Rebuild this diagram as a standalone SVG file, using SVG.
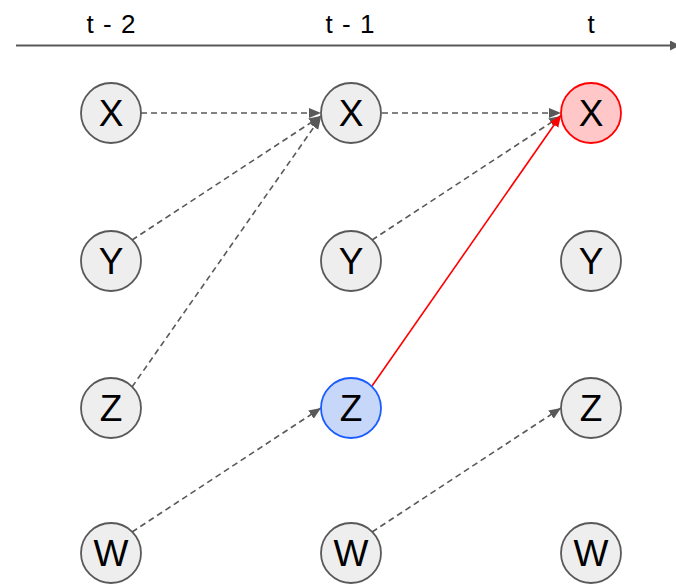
<svg xmlns="http://www.w3.org/2000/svg" width="676" height="584" viewBox="0 0 676 584">
<style>
.node circle{fill:#eeeeee;stroke:#595959;stroke-width:1.8}
.lbl{font-family:"Liberation Sans",Arial,sans-serif;font-size:37px;fill:#000;text-anchor:middle}
.tl{font-family:"Liberation Sans",Arial,sans-serif;font-size:26px;fill:#000;text-anchor:middle;word-spacing:2px}
.dash{stroke:#595959;stroke-width:1.6;stroke-dasharray:6 4;fill:none;marker-end:url(#ag)}
.red{stroke:#ff0000;stroke-width:1.6;fill:none;marker-end:url(#ar)}
</style>
<defs>
<marker id="ag" markerUnits="userSpaceOnUse" markerWidth="14" markerHeight="12" refX="12" refY="5" orient="auto"><path d="M0,0 L12,5 L0,10 z" fill="#595959"/></marker>
<marker id="ar" markerUnits="userSpaceOnUse" markerWidth="14" markerHeight="12" refX="12" refY="5" orient="auto"><path d="M0,0 L12,5 L0,10 z" fill="#ff0000"/></marker>
<marker id="aa" markerUnits="userSpaceOnUse" markerWidth="12" markerHeight="12" refX="8" refY="5" orient="auto"><path d="M0,0 L10,5 L0,10 z" fill="#595959"/></marker>
</defs>
<g id="axis">
<line x1="16" y1="45.5" x2="678" y2="45.5" stroke="#595959" stroke-width="2" marker-end="url(#aa)"/>
<text class="tl" x="111" y="33">t - 2</text>
<text class="tl" x="350" y="33">t - 1</text>
<text class="tl" x="591" y="33">t</text>
</g>
<g id="connectors">
<line class="dash" x1="141" y1="113" x2="321" y2="113"/>
<line class="dash" x1="132" y1="240" x2="321" y2="116"/>
<line class="dash" x1="132" y1="387" x2="321" y2="117"/>
<line class="dash" x1="382" y1="113" x2="561" y2="113"/>
<line class="dash" x1="372" y1="240" x2="561" y2="116"/>
<line class="red" x1="372" y1="386" x2="561" y2="115"/>
<line class="dash" x1="132" y1="532" x2="321" y2="408"/>
<line class="dash" x1="372" y1="532" x2="561" y2="408"/>
</g>
<g id="x2" class="node"><circle cx="111" cy="113" r="30"/><text class="lbl" x="111" y="126">X</text></g>
<g id="y2" class="node"><circle cx="111" cy="261" r="30"/><text class="lbl" x="111" y="274">Y</text></g>
<g id="z2" class="node"><circle cx="111" cy="408" r="30"/><text class="lbl" x="111" y="421">Z</text></g>
<g id="w2" class="node"><circle cx="111" cy="553" r="30"/><text class="lbl" x="111" y="566">W</text></g>
<g id="x1" class="node"><circle cx="351" cy="113" r="30"/><text class="lbl" x="351" y="126">X</text></g>
<g id="y1" class="node"><circle cx="351" cy="261" r="30"/><text class="lbl" x="351" y="274">Y</text></g>
<g id="z1" class="node"><circle cx="351" cy="408" r="30" style="fill:#c6d7fa;stroke:#1a5cff"/><text class="lbl" x="351" y="421">Z</text></g>
<g id="w1" class="node"><circle cx="351" cy="553" r="30"/><text class="lbl" x="351" y="566">W</text></g>
<g id="x0" class="node"><circle cx="591" cy="113" r="30" style="fill:#ffc7c7;stroke:#ff0000"/><text class="lbl" x="591" y="126">X</text></g>
<g id="y0" class="node"><circle cx="591" cy="261" r="30"/><text class="lbl" x="591" y="274">Y</text></g>
<g id="z0" class="node"><circle cx="591" cy="408" r="30"/><text class="lbl" x="591" y="421">Z</text></g>
<g id="w0" class="node"><circle cx="591" cy="553" r="30"/><text class="lbl" x="591" y="566">W</text></g>
</svg>
